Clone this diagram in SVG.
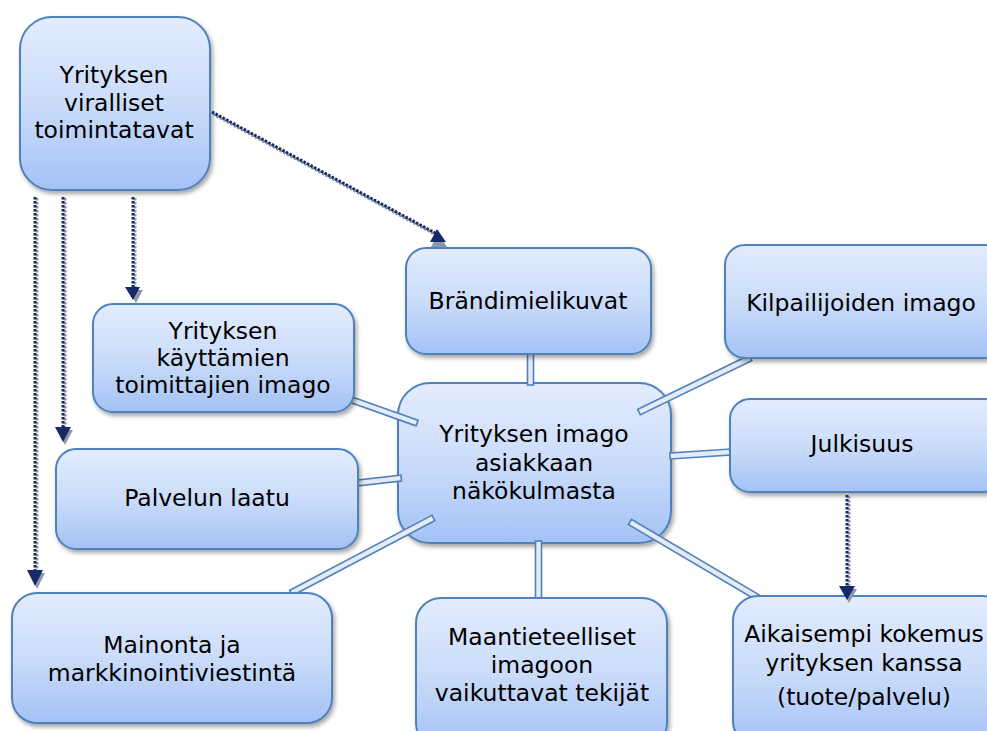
<svg xmlns="http://www.w3.org/2000/svg" width="987" height="731" viewBox="0 0 987 731">
<defs>
<linearGradient id="g" x1="0" y1="0" x2="0" y2="1">
<stop offset="0" stop-color="#e2ecfd"/>
<stop offset="0.5" stop-color="#cbdcfa"/>
<stop offset="1" stop-color="#a4c2f5"/>
</linearGradient>
<filter id="sh" x="-10%" y="-10%" width="130%" height="130%">
<feDropShadow dx="2" dy="3" stdDeviation="2" flood-color="#000" flood-opacity="0.35"/>
</filter>
<style>
.box{fill:url(#g);stroke:#4f81bd;stroke-width:2;filter:url(#sh)}
.t{font-family:"DejaVu Sans","Liberation Sans",sans-serif;font-size:23.5px;fill:#000;text-anchor:middle}
.c{fill:#e4ebf5;stroke:#4f81bd;stroke-width:1.6}
.d{fill:none;stroke:#152a66;stroke-width:3;stroke-dasharray:2.5 1.5}
.ds{fill:none;stroke:#8e97a8;stroke-width:3;stroke-dasharray:2.5 1.5}
.ah{fill:#152a66}
.as{fill:#8e97a8}
</style>
</defs>
<rect width="987" height="731" fill="#fff"/>

<g id="n-center">
<rect class="box" x="398" y="383" width="273" height="160" rx="32"/>
<text class="t" x="534" y="442">Yrityksen imago</text>
<text class="t" x="534" y="471">asiakkaan</text>
<text class="t" x="534" y="499">näkökulmasta</text>
</g>

<g id="connectors">
<rect class="c" x="527.5" y="354" width="6" height="31"/>
<rect class="c" x="535.5" y="541" width="6" height="58"/>
<rect class="c" x="0" y="-3" width="69" height="6" transform="translate(352,400) rotate(19.5)"/>
<rect class="c" x="0" y="-3" width="43.5" height="6" transform="translate(358,483) rotate(-6.6)"/>
<rect class="c" x="0" y="-3" width="124" height="6" transform="translate(639,412) rotate(-25.9)"/>
<rect class="c" x="0" y="-3" width="61" height="6" transform="translate(670,456) rotate(-3.75)"/>
<rect class="c" x="0" y="-3" width="148" height="6" transform="translate(630,522) rotate(30.6)"/>
<rect class="c" x="0" y="-3" width="161" height="6" transform="translate(291,593) rotate(-27.8)"/>
</g>

<g id="n-viralliset">
<rect class="box" x="20" y="17" width="190" height="173" rx="32"/>
<text class="t" x="114" y="83">Yrityksen</text>
<text class="t" x="114" y="111">viralliset</text>
<text class="t" x="114" y="138">toimintatavat</text>
</g>

<g id="n-brandi">
<rect class="box" x="406" y="248" width="245" height="106" rx="20"/>
<text class="t" x="528" y="309">Brändimielikuvat</text>
</g>

<g id="n-kilpailijat">
<rect class="box" x="725" y="245" width="280" height="113" rx="20"/>
<text class="t" x="861" y="311">Kilpailijoiden imago</text>
</g>

<g id="n-toimittajat">
<rect class="box" x="93" y="304" width="261" height="108" rx="20"/>
<text class="t" x="223" y="339">Yrityksen</text>
<text class="t" x="223" y="366">käyttämien</text>
<text class="t" x="223" y="393">toimittajien imago</text>
</g>

<g id="n-julkisuus">
<rect class="box" x="730" y="399" width="275" height="93" rx="20"/>
<text class="t" x="862" y="452">Julkisuus</text>
</g>

<g id="n-palvelu">
<rect class="box" x="56" y="449" width="302" height="100" rx="20"/>
<text class="t" x="207" y="506">Palvelun laatu</text>
</g>

<g id="n-mainonta">
<rect class="box" x="12" y="593" width="320" height="130" rx="25"/>
<text class="t" x="172" y="653">Mainonta ja</text>
<text class="t" x="172" y="681">markkinointiviestintä</text>
</g>

<g id="n-maantiet">
<rect class="box" x="416" y="598" width="251" height="150" rx="25"/>
<text class="t" x="542" y="645">Maantieteelliset</text>
<text class="t" x="542" y="673">imagoon</text>
<text class="t" x="542" y="701">vaikuttavat tekijät</text>
</g>

<g id="n-aikaisempi">
<rect class="box" x="733" y="596" width="275" height="150" rx="25"/>
<text class="t" x="864" y="642">Aikaisempi kokemus</text>
<text class="t" x="864" y="671">yrityksen kanssa</text>
<text class="t" x="864" y="705">(tuote/palvelu)</text>
</g>

<g id="arrows">
<path class="ds" d="M213,114 L438,236"/>
<path class="d" d="M212,112 L437,234"/>
<polygon class="as" points="438,233 431,247 447,247"/>
<polygon class="ah" points="437,229 430,242 446,242"/>

<path class="ds" d="M135,198 V288"/>
<path class="d" d="M133,197 V288"/>
<polygon class="as" points="128,290 143,290 136,303"/>
<polygon class="ah" points="125,287 140,287 133,300"/>

<path class="ds" d="M65,198 V428"/>
<path class="d" d="M63,197 V428"/>
<polygon class="as" points="57,430 73,430 65,445"/>
<polygon class="ah" points="55,427 71,427 63,442"/>

<path class="ds" d="M37,198 V571"/>
<path class="d" d="M35,197 V571"/>
<polygon class="as" points="30,573 45,573 37,589"/>
<polygon class="ah" points="27,570 43,570 35,586"/>

<path class="ds" d="M849,496 V587"/>
<path class="d" d="M847,495 V587"/>
<polygon class="as" points="841,589 857,589 849,603"/>
<polygon class="ah" points="839,586 855,586 847,600"/>
</g>
</svg>
